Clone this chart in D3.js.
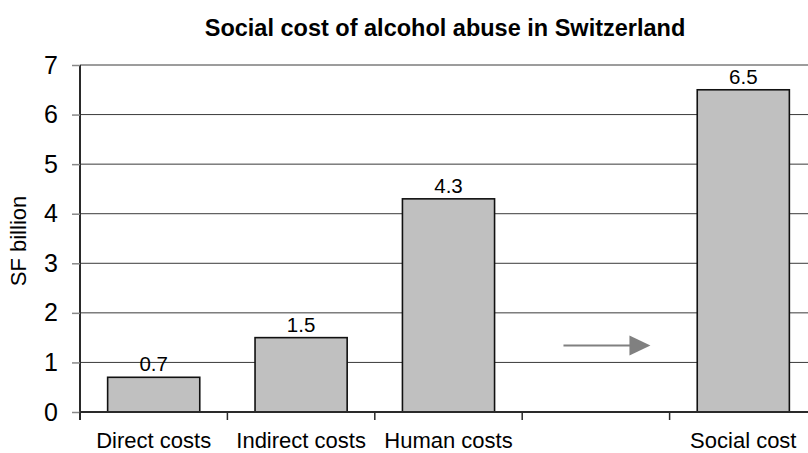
<!DOCTYPE html>
<html>
<head>
<meta charset="utf-8">
<script src="https://cdn.jsdelivr.net/npm/d3@7/dist/d3.min.js"></script>
<style>
  html, body { margin: 0; padding: 0; background: #fff; }
  svg { display: block; font-family: "Liberation Sans", Arial, sans-serif; }
</style>
</head>
<body>
<svg id="chart" width="808" height="453"></svg>
<script>
// Chart data
const categories = ["Direct costs", "Indirect costs", "Human costs", "", "Social cost"];
const values = [0.7, 1.5, 4.3, null, 6.5];
const yTicks = [0, 1, 2, 3, 4, 5, 6, 7];
const title = "Social cost of alcohol abuse in Switzerland";
const yLabel = "SF billion";

const svg = d3.select("#chart");
const margin = { left: 80, top: 65, right: -9, bottom: 41 };
const width = 808, height = 453;
const x0 = margin.left, x1 = width - margin.right;
const yTop = margin.top, yBot = height - margin.bottom;

const keys = categories.map((d, i) => i);
const x = d3.scaleBand().domain(keys).range([x0, x1])
  .paddingInner(0.375).paddingOuter(0.1875);
const y = d3.scaleLinear().domain([0, 7]).range([yBot, yTop]);
const step = x.step();

// Horizontal gridlines
svg.append("g").selectAll("line").data(yTicks.filter(t => t > 0)).join("line")
  .attr("x1", x0).attr("x2", x1)
  .attr("y1", d => y(d)).attr("y2", d => y(d))
  .attr("stroke", "#3a3a3a").attr("stroke-width", 1);

// Y axis
const yAxis = d3.axisLeft(y).tickValues(yTicks).tickSize(8).tickPadding(14)
  .tickFormat(d3.format("d"));
const gy = svg.append("g").attr("transform", `translate(${x0},0)`).call(yAxis);
gy.select(".domain").attr("stroke", "#2a2a2a").attr("stroke-width", 2)
  .attr("d", `M0,${yTop}V${yBot + 8}`);
gy.selectAll(".tick line").attr("stroke", "#888").attr("stroke-width", 1.5);
gy.selectAll(".tick text").attr("font-size", 25).attr("fill", "#000")
  .attr("font-family", "'Liberation Sans', Arial, sans-serif");

// Bars
const bw = x.bandwidth();
const barData = values.map((v, i) => ({ i, v })).filter(d => d.v != null);
svg.append("g").selectAll("rect").data(barData).join("rect")
  .attr("x", d => x(d.i)).attr("width", bw)
  .attr("y", d => y(d.v)).attr("height", d => y(0) - y(d.v))
  .attr("fill", "#c0c0c0").attr("stroke", "#111").attr("stroke-width", 1.6);

// Value labels
svg.append("g").selectAll("text").data(barData).join("text")
  .attr("x", d => x(d.i) + bw / 2).attr("y", d => y(d.v) - 6)
  .attr("text-anchor", "middle").attr("font-size", 20.5).attr("fill", "#000")
  .text(d => d3.format(".1f")(d.v));

// X axis baseline and category boundary ticks
svg.append("line").attr("x1", x0).attr("x2", x1)
  .attr("y1", y(0)).attr("y2", y(0))
  .attr("stroke", "#2a2a2a").attr("stroke-width", 2);
const bounds = d3.range(categories.length).map(i => x0 + i * step);
svg.append("g").selectAll("line").data(bounds).join("line")
  .attr("x1", d => d).attr("x2", d => d)
  .attr("y1", y(0)).attr("y2", y(0) + 8)
  .attr("stroke", "#2a2a2a").attr("stroke-width", 1.5);

// Category labels
svg.append("g").selectAll("text").data(keys).join("text")
  .attr("x", d => x(d) + bw / 2).attr("y", 448)
  .attr("text-anchor", "middle").attr("font-size", 22).attr("fill", "#000")
  .text(d => categories[d]);

// Arrow pointing to the total
const ax = x(3) - x.paddingInner() * step / 2;
const arrowY = y(1.34);
const arrowStart = ax + 0.28 * step, arrowEnd = ax + 0.87 * step;
svg.append("line").attr("x1", arrowStart).attr("x2", arrowEnd - 18)
  .attr("y1", arrowY).attr("y2", arrowY)
  .attr("stroke", "#808080").attr("stroke-width", 2);
svg.append("path")
  .attr("d", `M${arrowEnd - 21},${arrowY - 10}L${arrowEnd},${arrowY}L${arrowEnd - 21},${arrowY + 10}Z`)
  .attr("fill", "#808080");

// Title
svg.append("text").attr("x", 445).attr("y", 36).attr("text-anchor", "middle")
  .attr("font-size", 23.5).attr("font-weight", "bold").attr("fill", "#000")
  .text(title);

// Y axis label
svg.append("text").attr("transform", `translate(26,241) rotate(-90)`)
  .attr("text-anchor", "middle").attr("font-size", 22).attr("fill", "#000")
  .text(yLabel);
</script>
</body>
</html>
